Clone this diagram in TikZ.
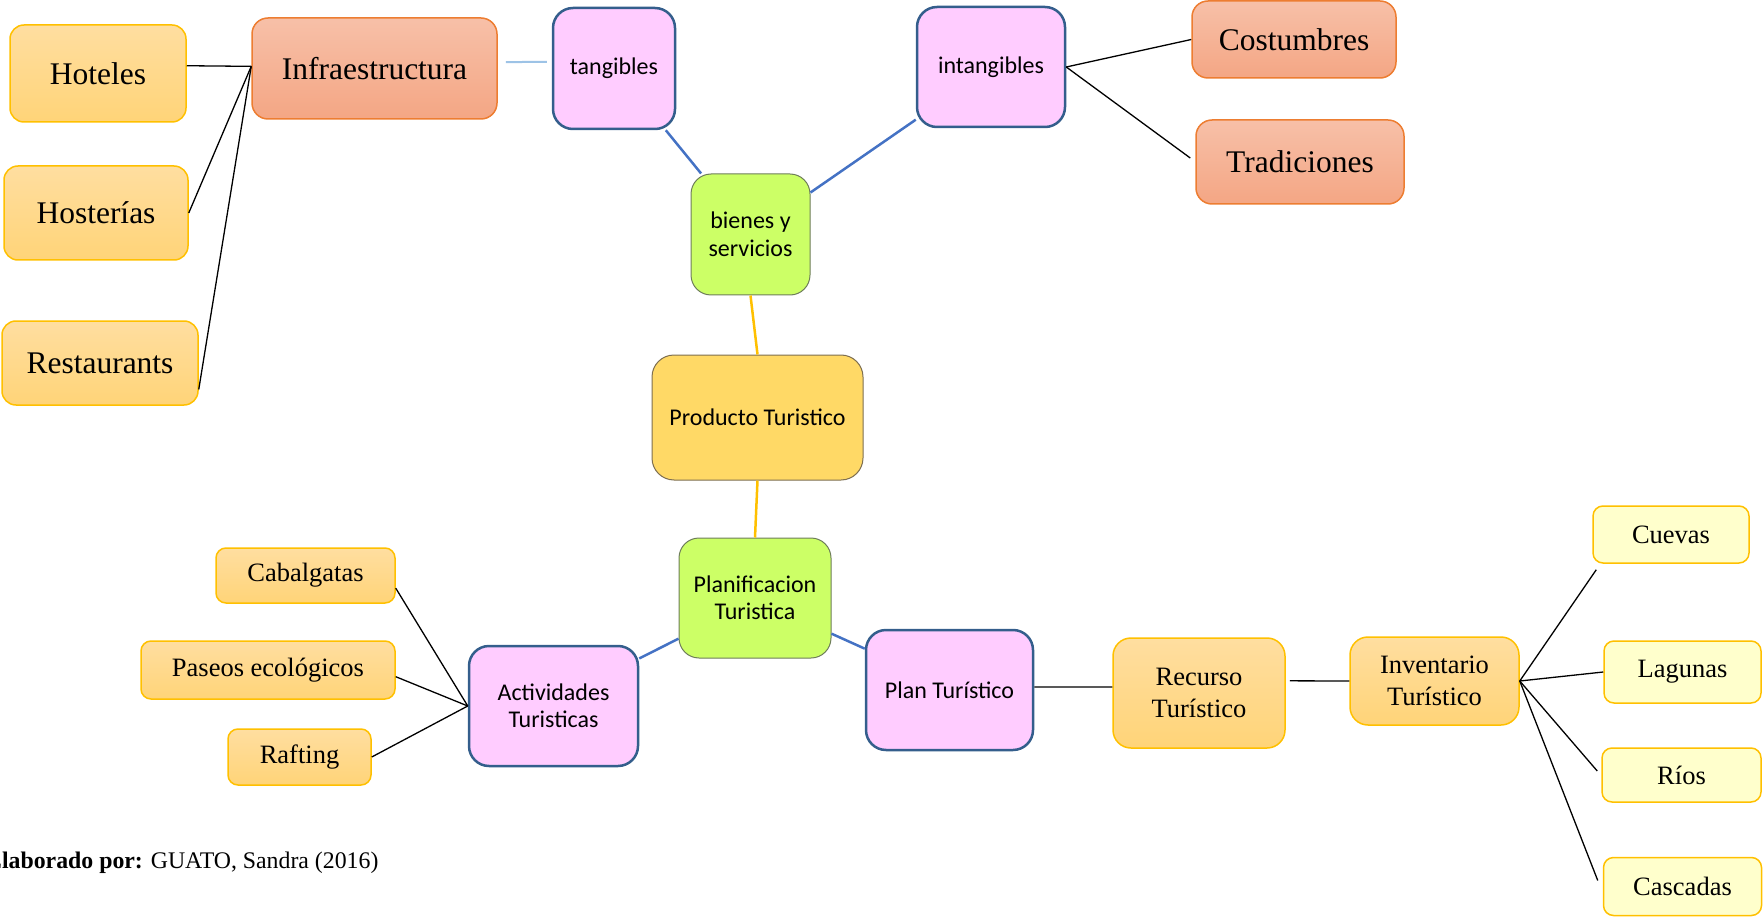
\documentclass[tikz,border=0pt]{standalone}
\usepackage{fontspec}
\setmainfont{Liberation Serif}
\newfontfamily\calibri{Carlito}
\usetikzlibrary{calc}
\definecolor{gold}{RGB}{255,192,0}
\definecolor{ytop}{RGB}{255,222,160}
\definecolor{ybot}{RGB}{255,212,120}
\definecolor{stop}{RGB}{247,192,168}
\definecolor{sbot}{RGB}{244,166,132}
\definecolor{sborder}{RGB}{237,125,49}
\definecolor{pinkfill}{RGB}{255,204,255}
\definecolor{pinkborder}{RGB}{52,94,140}
\definecolor{greenfill}{RGB}{204,255,102}
\definecolor{greenborder}{RGB}{110,125,90}
\definecolor{prodfill}{RGB}{255,217,102}
\definecolor{prodborder}{RGB}{125,110,80}
\definecolor{lightyellow}{RGB}{255,255,204}
\definecolor{linkblue}{RGB}{68,114,196}
\definecolor{paleblue}{RGB}{157,195,230}
\definecolor{linkorange}{RGB}{255,192,0}
\begin{document}
\begin{tikzpicture}[x=1pt,y=-1pt,
  common/.style={rectangle, inner sep=0pt, align=center},
  ybox/.style={common, draw=gold, line width=1.5pt, rounded corners=14pt, top color=ytop, bottom color=ybot},
  ysmall/.style={ybox, rounded corners=10pt},
  sbox/.style={common, draw=sborder, line width=1.5pt, rounded corners=16pt, top color=stop, bottom color=sbot},
  pbox/.style={common, draw=pinkborder, line width=2.5pt, fill=pinkfill, rounded corners=20pt, sans},
  gbox/.style={common, draw=greenborder, line width=1pt, fill=greenfill, rounded corners=20pt, sans},
  prodbox/.style={common, draw=prodborder, line width=1pt, fill=prodfill, rounded corners=22pt, sans},
  lbox/.style={common, draw=gold, line width=1.5pt, fill=lightyellow, rounded corners=10pt, mid},
  sans/.style={font=\calibri\fontsize{24}{27.5}\selectfont},
  big/.style={font=\fontsize{31.5}{36}\selectfont},
  mid/.style={font=\fontsize{26.5}{31.5}\selectfont},
  blk/.style={draw=black, line width=1.3pt},
  bl/.style={draw=linkblue, line width=2.5pt},
  pale/.style={draw=paleblue, line width=2pt},
  orl/.style={draw=linkorange, line width=2.5pt}
]
\useasboundingbox (0,0) rectangle (1764,917);

% left group
\node[ybox, big, minimum width=176pt, minimum height=97pt] (hoteles) at (98,73.5) {Hoteles};
\node[ybox, big, minimum width=184pt, minimum height=94pt] (hosterias) at (96,213) {Hosterías};
\node[ybox, big, minimum width=196pt, minimum height=84pt] (restaurants) at (100,363) {Restaurants};
\node[sbox, big, minimum width=245pt, minimum height=101pt] (infra) at (374.5,68.5) {Infraestructura};

% top
\node[pbox, minimum width=122pt, minimum height=121pt] (tangibles) at (614,68.5) {tangibles};
\node[pbox, minimum width=148pt, minimum height=120pt] (intangibles) at (991,67) {intangibles};
\node[sbox, big, minimum width=204pt, minimum height=77pt] (costumbres) at (1294,39.5) {Costumbres};
\node[sbox, big, minimum width=208pt, minimum height=84pt] (tradiciones) at (1300,162) {Tradiciones};
\node[gbox, minimum width=119pt, minimum height=121pt] (bienes) at (750.5,234.5) {bienes y\\servicios};

% center
\node[prodbox, minimum width=211pt, minimum height=125pt] (producto) at (757.5,417.5) {Producto Turistico};
\node[gbox, minimum width=152pt, minimum height=120pt] (planif) at (755,598) {Planificacion\\Turistica};

% lower left
\node[pbox, minimum width=169pt, minimum height=120pt] (actividades) at (553.5,706) {Actividades\\Turisticas};
\node[ysmall, mid, minimum width=179pt, minimum height=55pt] (cabalgatas) at (305.5,575.5) {Cabalgatas};
\node[ysmall, mid, minimum width=254pt, minimum height=58pt] (paseos) at (268,670) {Paseos ecológicos};
\node[ysmall, mid, minimum width=143pt, minimum height=56pt] (rafting) at (299.5,757) {Rafting};

% lower right
\node[pbox, minimum width=167pt, minimum height=120pt] (plan) at (949.5,690) {Plan Turístico};
\node[ybox, mid, rounded corners=18pt, minimum width=172pt, minimum height=110pt] (recurso) at (1199,693) {Recurso\\Turístico};
\node[ybox, mid, rounded corners=18pt, minimum width=169pt, minimum height=88pt] (inventario) at (1434.5,681) {Inventario\\Turístico};
\node[lbox, minimum width=156pt, minimum height=57pt] (cuevas) at (1671,534.5) {Cuevas};
\node[lbox, minimum width=157pt, minimum height=62pt] (lagunas) at (1682.5,672) {Lagunas};
\node[lbox, minimum width=159pt, minimum height=54pt] (rios) at (1681.5,775) {Ríos};
\node[lbox, minimum width=158pt, minimum height=58pt] (cascadas) at (1682.5,886.5) {Cascadas};

% credit
\node[anchor=base west, inner sep=0pt, font=\fontsize{23.8}{28}\selectfont] (credit) at (-14,868) {\textbf{Elaborado por:} GUATO, Sandra (2016)};

% connectors
\draw[blk] (hoteles.5) -- (infra.179);
\draw[blk] (hosterias.east) -- (infra.179);
\draw[blk] (restaurants.-15) -- (infra.179);
\draw[pale, shorten <=8pt, shorten >=5pt] (infra.3) -- (tangibles.174);
\draw[bl] (tangibles.-50) -- (bienes.129);
\draw[bl] (intangibles.215) -- (bienes.35);
\draw[blk] (intangibles.east) -- (costumbres.west);
\draw[blk] (intangibles.east) -- ($(tradiciones.west)+(-5,-4)$);
\draw[orl] (bienes.south) -- (producto.north);
\draw[orl] (producto.south) -- (planif.north);
\draw[bl] (planif.208) -- (actividades.29);
\draw[bl] (planif.-25) -- (plan.154);
\draw[blk] (cabalgatas.-8) -- (actividades.west);
\draw[blk] (paseos.-3) -- (actividades.west);
\draw[blk] (rafting.east) -- (actividades.west);
\draw[blk] (plan.2) -- (recurso.176);
\draw[blk, shorten <=4pt] (recurso.8) -- (inventario.west);
\draw[blk] (inventario.east) -- ($(cuevas.south west)+(4,6)$);
\draw[blk] (inventario.east) -- (lagunas.west);
\draw[blk] (inventario.east) -- ($(rios.west)+(-4,-4)$);
\draw[blk] (inventario.east) -- ($(cascadas.west)+(-5,-6)$);
\end{tikzpicture}
\end{document}
